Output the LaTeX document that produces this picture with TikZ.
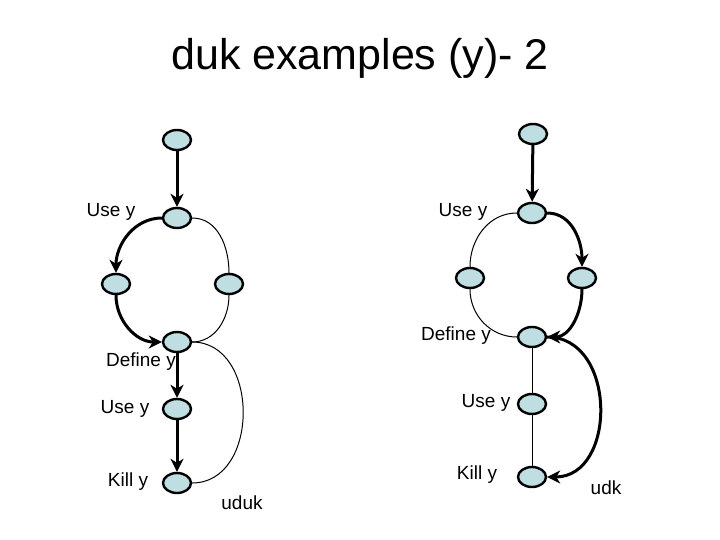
\documentclass[tikz,border=0pt]{standalone}
\usepackage{fontspec}
\setmainfont{Liberation Sans}
\usetikzlibrary{shapes.geometric,arrows.meta}
\definecolor{nodefill}{RGB}{190,222,226}
\tikzset{
  vtx/.style={ellipse, draw=black, fill=nodefill, line width=2.4pt, minimum width=28pt, minimum height=20pt, inner sep=0pt},
  lbl/.style={font=\fontsize{19}{22}\selectfont, inner sep=0pt},
  thickedge/.style={line width=3pt},
  thinedge/.style={line width=1pt},
  arr/.style={-{Stealth[length=13pt,width=13pt,inset=4pt]}}
}
\begin{document}
\begin{tikzpicture}[x=1pt,y=-1pt]
\useasboundingbox (0,0) rectangle (720,540);
\node[font=\fontsize{43}{50}\selectfont, inner sep=0pt] (title) at (360,58) {duk examples (y)- 2};

% left graph
\node[vtx] (t1) at (177,140) {};
\node[vtx] (u1) at (177,218) {};
\node[vtx] (l1) at (116,284) {};
\node[vtx] (r1) at (229,284) {};
\node[vtx] (d1) at (177,342) {};
\node[vtx] (v1) at (177,409) {};
\node[vtx] (k1) at (177,483) {};
\node[lbl] (lu1) at (111,212) {Use y};
\node[lbl] (ld1) at (141,362) {Define y};
\node[lbl] (lv1) at (125,409) {Use y};
\node[lbl] (lk1) at (128,482) {Kill y};
\node[lbl] (lx1) at (242,503) {uduk};

\draw[thickedge,arr] (t1) -- (u1);
\draw[thickedge,arr] (u1.west) to[out=180,in=90] (l1.north);
\draw[thinedge] (u1.east) to[out=0,in=90] (r1.north);
\draw[thickedge,arr] (l1.south) to[out=-90,in=180] (d1.west);
\draw[thinedge] (r1.south) to[out=-90,in=0] (d1.east);
\draw[thickedge,arr] (d1) -- (v1);
\draw[thickedge,arr] (v1) -- (k1);
\draw[thinedge] (d1.east) .. controls +(68,0) and +(68,0) .. (k1.east);

% right graph
\node[vtx] (t2) at (533,134) {};
\node[vtx] (u2) at (532,213) {};
\node[vtx] (l2) at (470,278) {};
\node[vtx] (r2) at (582,278) {};
\node[vtx] (d2) at (532,337) {};
\node[vtx] (v2) at (532,404) {};
\node[vtx] (k2) at (532,477) {};
\node[lbl] (lu2) at (463,212) {Use y};
\node[lbl] (ld2) at (456,336) {Define y};
\node[lbl] (lv2) at (486,403) {Use y};
\node[lbl] (lk2) at (477,475) {Kill y};
\node[lbl] (lx2) at (606,488) {udk};

\draw[thickedge,arr] (t2) -- (u2);
\draw[thinedge] (u2.west) to[out=180,in=90] (l2.north);
\draw[thickedge,arr] (u2.east) to[out=0,in=90] (r2.north);
\draw[thinedge] (l2.south) to[out=-90,in=180] (d2.west);
\draw[thickedge,arr] (r2.south) to[out=-90,in=0] (d2.east);
\draw[thinedge] (d2) -- (v2);
\draw[thinedge] (v2) -- (k2);
\draw[thickedge,arr] (d2.east) .. controls +(70,0) and +(70,0) .. (k2.east);
\end{tikzpicture}
\end{document}
